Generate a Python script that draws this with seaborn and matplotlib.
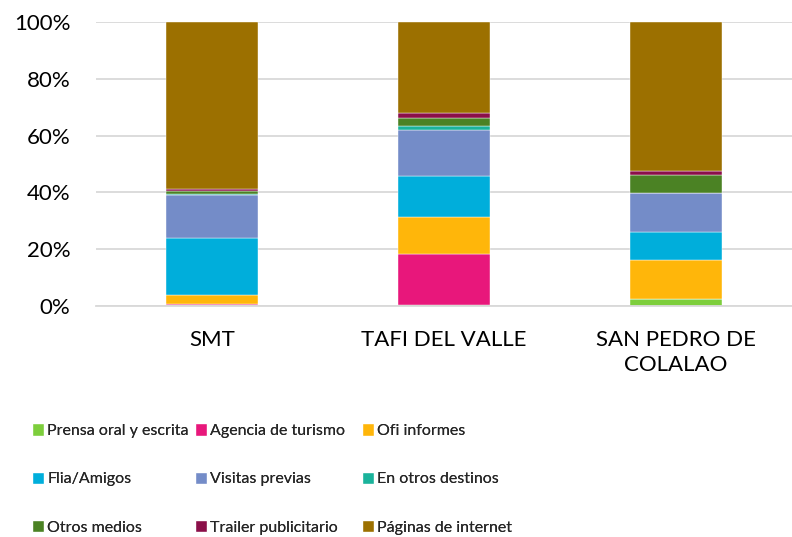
import pandas as pd
import numpy as np
from matplotlib import pyplot as plt
from matplotlib.patches import Patch
from matplotlib.ticker import PercentFormatter
import seaborn as sns

# data (share of visitors per information source, %)
destinos = ['SMT', 'TAFI DEL VALLE', 'SAN PEDRO DE\nCOLALAO']
fuentes = ['Prensa oral y escrita', 'Agencia de turismo', 'Ofi informes',
           'Flia/Amigos', 'Visitas previas', 'En otros destinos',
           'Otros medios', 'Trailer publicitario', 'Páginas de internet']
prensa = [0.2, 0.5, 2.4]
agencia = [0.6, 17.7, 0.0]
ofi = [2.9, 13.3, 13.8]
flia = [20.1, 14.4, 10.0]
visitas = [15.3, 16.2, 13.7]
otros_destinos = [0.5, 1.2, 0.0]
otros_medios = [0.9, 2.8, 6.3]
trailer = [0.8, 2.0, 1.3]
paginas = [58.7, 31.9, 52.5]

colores = ['#7DCE3C', '#E8177B', '#FFB60A', '#00AEDB', '#748CC8',
           '#1AB39B', '#4B8224', '#8B0F49', '#9C7000']

series = [prensa, agencia, ofi, flia, visitas, otros_destinos,
          otros_medios, trailer, paginas]
df = pd.DataFrame(dict(zip(fuentes, series)), index=destinos)

sns.set_style('white')
plt.rcParams['font.family'] = ['Lato', 'DejaVu Sans']

fig = plt.figure(figsize=(7.92, 5.37), dpi=100)
ax = fig.add_axes([96 / 792, 1 - 306 / 537, 696 / 792, 284 / 537])

# stacked bars, one barplot call per source
base = np.zeros(len(destinos))
for fuente, color in zip(fuentes, colores):
    sns.barplot(x=df.index, y=df[fuente].values, bottom=base, color=color,
                saturation=1, width=0.4, edgecolor='white', linewidth=0.3,
                ax=ax, order=destinos)
    base += df[fuente].values

ax.set_ylim(0, 100)
ax.set_yticks(range(0, 101, 20))
ax.yaxis.set_major_formatter(PercentFormatter(decimals=0))
ax.set_xlim(-0.5, 2.5)
ax.grid(axis='y', color='#D9D9D9', linewidth=1.3)
ax.set_axisbelow(True)
for s in ['top', 'right', 'left']:
    ax.spines[s].set_visible(False)
ax.spines['bottom'].set_color('#D9D9D9')
ax.spines['bottom'].set_linewidth(1.3)
ax.tick_params(axis='both', length=0, labelsize=16, colors='black')
ax.tick_params(axis='x', pad=17)
ax.tick_params(axis='y', pad=18.5)
ax.set_xlabel('')
ax.set_ylabel('')
plt.setp(ax.get_xticklabels(), linespacing=1.35)

# legend: one small legend per column, three rows each
handles = [Patch(facecolor=c) for c in colores]
col_x = [32, 195, 362]
for j, x in enumerate(col_x):
    idx = [j, j + 3, j + 6]
    leg = fig.legend([handles[i] for i in idx], [fuentes[i] for i in idx],
                     loc='center left', bbox_to_anchor=(x / 792, 1 - 479 / 537),
                     frameon=False, fontsize=11.5, handlelength=0.75,
                     handleheight=0.8, handletextpad=0.2, labelspacing=2.1,
                     borderpad=0, borderaxespad=0)
    fig.add_artist(leg)

plt.savefig('out.png', dpi=100)
